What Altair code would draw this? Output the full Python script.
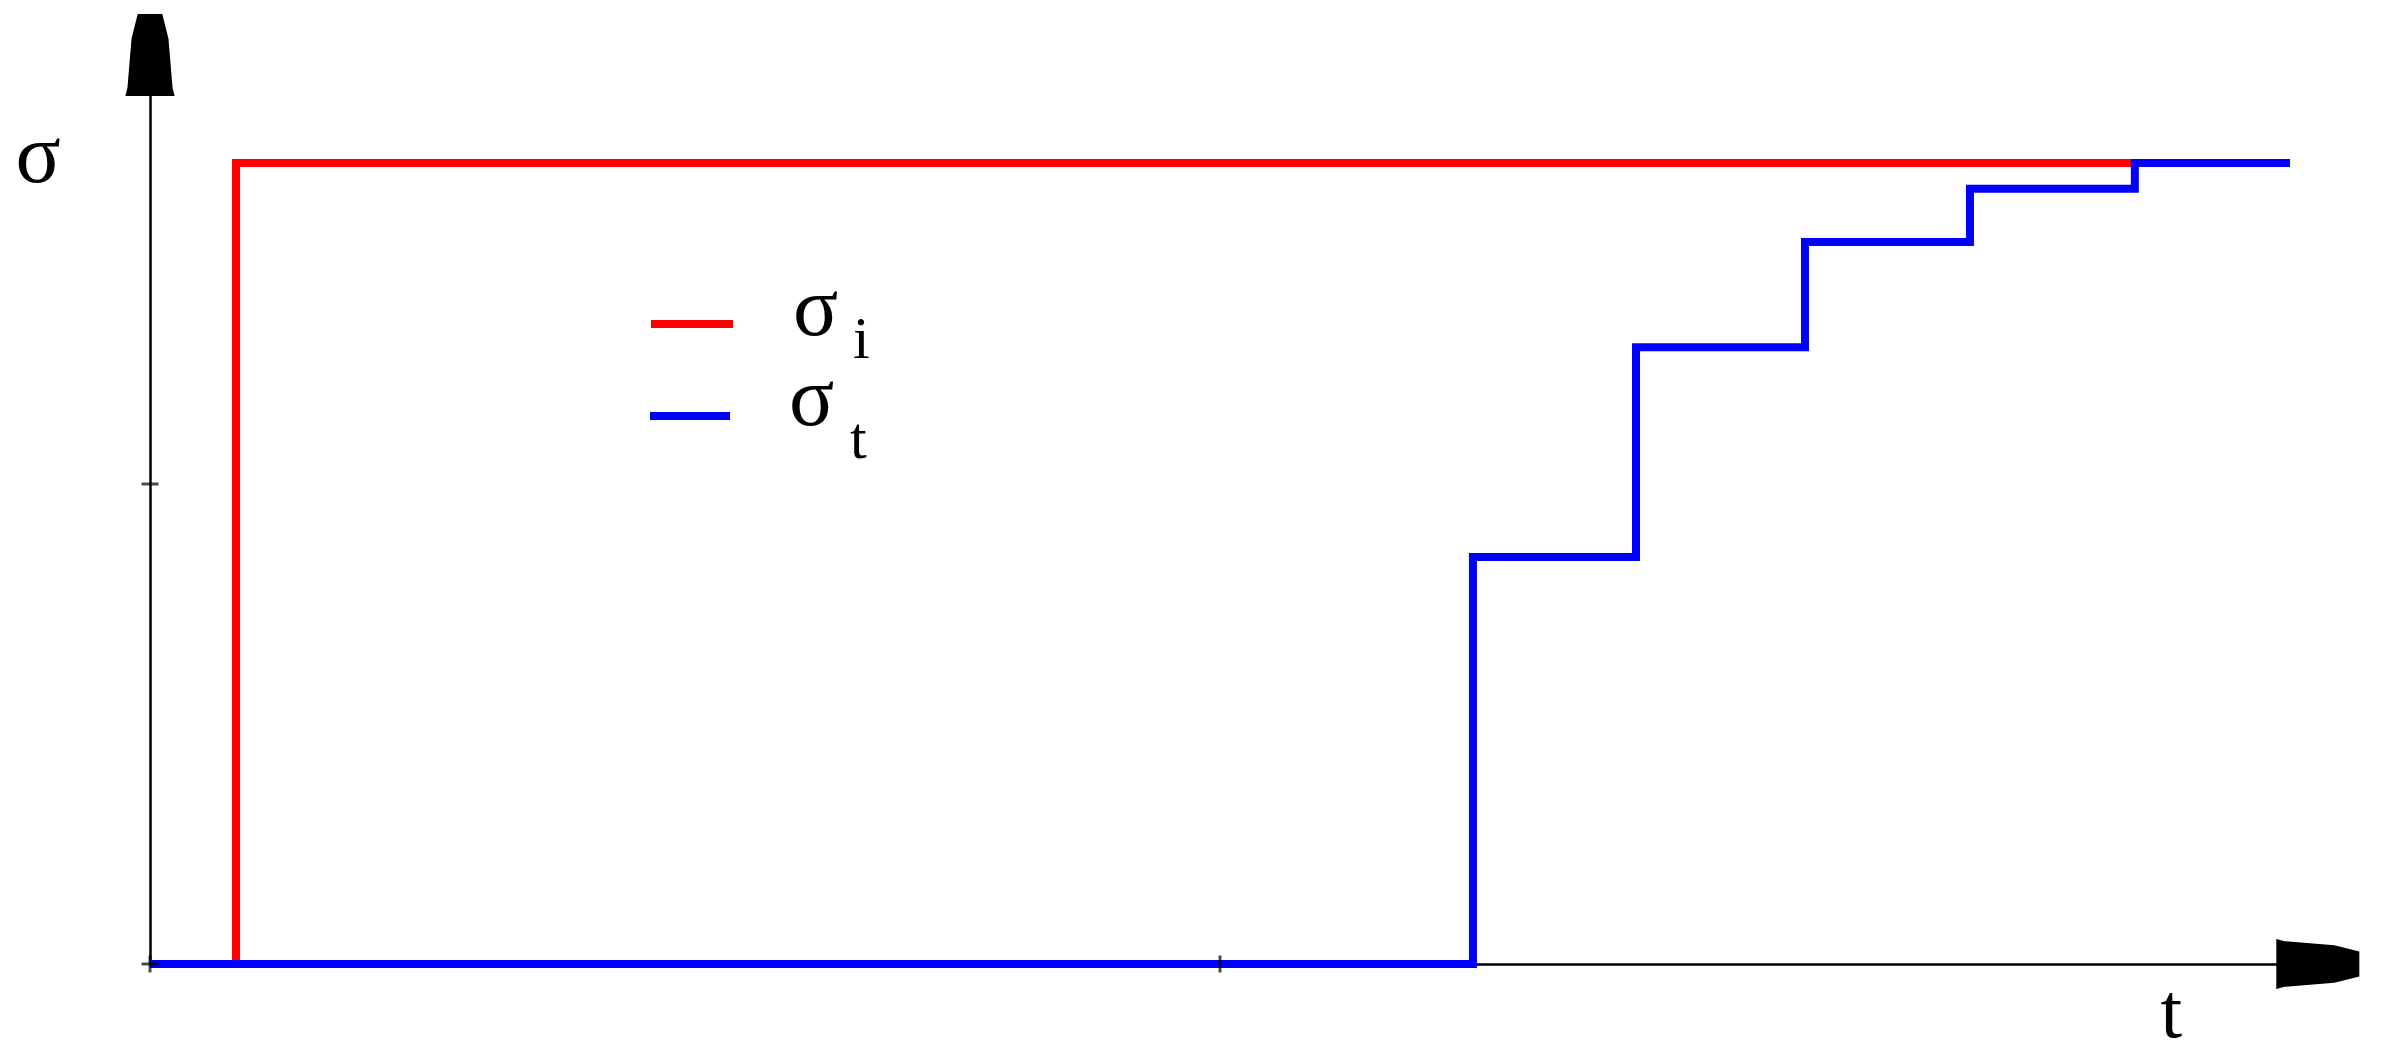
import altair as alt
import pandas as pd

# ---- data ----
red_t = [0.0, 0.0804, 1.855]
red_sigma = [0.0, 1.669, 1.669]

blue_t = [0.0, 1.2364, 1.3888, 1.5467, 1.7009, 1.855, 2.0]
blue_sigma = [0.0, 0.848, 1.285, 1.504, 1.615, 1.669, 1.669]

x_ticks = [0.0, 1.0]
y_ticks = [0.0, 1.0]

x_domain = [0, 2.0]
y_domain = [0, 1.9]

# arrow-head anchor positions (axis ends)
arrow_up = {"t": 0.0, "s": 1.894}
arrow_right = {"t": 2.026, "s": 0.0}

W, H = 2140, 912
FONT = "Liberation Serif"

lines_df = pd.concat([
    pd.DataFrame({"t": red_t, "s": red_sigma, "series": "sigma_i", "order": range(len(red_t))}),
    pd.DataFrame({"t": blue_t, "s": blue_sigma, "series": "sigma_t", "order": range(len(blue_t))}),
])

xs = alt.Scale(domain=x_domain, nice=False, zero=False)
ys = alt.Scale(domain=y_domain, nice=False, zero=False)

base_x_axis = alt.Axis(domain=True, domainColor="black", domainWidth=2.5, ticks=False,
                       labels=False, grid=False, title="t", titleFont=FONT, titleFontSize=78,
                       titleFontWeight="normal", titleColor="black", titleAngle=0,
                       titleAlign="left", titleBaseline="alphabetic", titleX=2010, titleY=72)
base_y_axis = alt.Axis(domain=True, domainColor="black", domainWidth=2.5, ticks=False,
                       labels=False, grid=False, title="σ", titleFont=FONT, titleFontSize=84,
                       titleFontWeight="normal", titleColor="black", titleAngle=0,
                       titleAlign="left", titleBaseline="alphabetic", titleX=-135, titleY=129)

lines = alt.Chart(lines_df).mark_line(interpolate="step-after", strokeWidth=8).encode(
    x=alt.X("t:Q", scale=xs, axis=base_x_axis),
    y=alt.Y("s:Q", scale=ys, axis=base_y_axis),
    color=alt.Color("series:N", scale=alt.Scale(domain=["sigma_i", "sigma_t"],
                                                range=["#ff0000", "#0000ff"]), legend=None),
    detail="series:N",
    order="order:Q",
)

xt_df = pd.DataFrame({"t": x_ticks, "s": [0.0] * len(x_ticks)})
yt_df = pd.DataFrame({"t": [0.0] * len(y_ticks), "s": y_ticks})

xticks = alt.Chart(xt_df).mark_tick(orient="vertical", size=17, thickness=3, color="black").encode(
    x=alt.X("t:Q", scale=xs), y=alt.Y("s:Q", scale=ys))
yticks = alt.Chart(yt_df).mark_tick(orient="horizontal", size=17, thickness=3, color="black").encode(
    x=alt.X("t:Q", scale=xs), y=alt.Y("s:Q", scale=ys))

up_shape = "M -0.3 -1 L 0.3 -1 L 0.45 -0.4 L 0.55 0.8 L 0.6 1 L -0.6 1 L -0.55 0.8 L -0.45 -0.4 Z"
right_shape = "M 1 -0.3 L 1 0.3 L 0.4 0.45 L -0.8 0.55 L -1 0.6 L -1 -0.6 L -0.8 -0.55 L 0.4 -0.45 Z"

arrow_u = alt.Chart(pd.DataFrame([arrow_up])).mark_point(
    shape=up_shape, size=6724, filled=True, color="black", opacity=1, strokeWidth=0).encode(
    x=alt.X("t:Q", scale=xs), y=alt.Y("s:Q", scale=ys))
arrow_r = alt.Chart(pd.DataFrame([arrow_right])).mark_point(
    shape=right_shape, size=6889, filled=True, color="black", opacity=1, strokeWidth=0).encode(
    x=alt.X("t:Q", scale=xs), y=alt.Y("s:Q", scale=ys))

# ---- manual legend with subscripts ----
one = pd.DataFrame({"k": [0]})
leg_red = alt.Chart(one).mark_rule(color="#ff0000", strokeWidth=8).encode(
    x=alt.value(501), x2=alt.value(583), y=alt.value(272))
leg_blue = alt.Chart(one).mark_rule(color="#0000ff", strokeWidth=8).encode(
    x=alt.value(500), x2=alt.value(580), y=alt.value(364))

def txt(s, x, y, size):
    return alt.Chart(one).mark_text(font=FONT, fontSize=size, align="left",
                                    baseline="alphabetic", color="black").encode(
        x=alt.value(x), y=alt.value(y), text=alt.value(s))

legend_texts = [
    txt("σ", 643, 283, 84), txt("i", 703, 306, 60),
    txt("σ", 639, 373, 84), txt("t", 700, 406, 60),
]

chart = alt.layer(lines, xticks, yticks, arrow_u, arrow_r, leg_red, leg_blue, *legend_texts).properties(
    width=W, height=H,
    background="white",
    autosize=alt.AutoSizeParams(type="none"),
    padding={"left": 142, "top": 44, "right": 86, "bottom": 90},
).configure_view(stroke=None)

chart.save("out.html", embed_options={"renderer": "svg", "actions": False})
